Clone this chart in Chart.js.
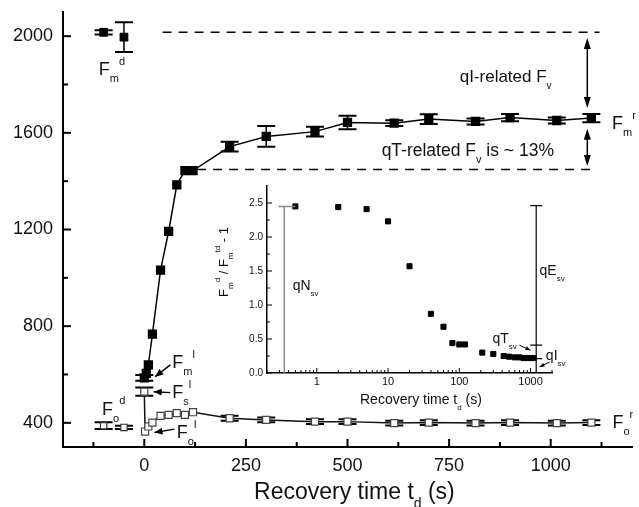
<!DOCTYPE html>
<html>
<head>
<meta charset="utf-8">
<script src="https://cdn.jsdelivr.net/npm/chart.js@4.4.1/dist/chart.umd.min.js"></script>
<style>
  html, body { margin: 0; padding: 0; background: #fff; }
  #wrap { position: relative; width: 639px; height: 507px; }
  #main { position: absolute; left: 0; top: 0; }
  #inset { position: absolute; left: 200px; top: 175px; }
</style>
</head>
<body>
<div id="wrap">
  <canvas id="main" width="639" height="507"></canvas>
  <canvas id="inset" width="380" height="240"></canvas>
</div>
<script>
(function () {
var FONT = '"Liberation Sans", Arial, Helvetica, sans-serif';

// dark-adapted values (before illumination)
var darkTime = [-100, -50];
var fmDark = [2016, 1996];
var fmDarkErr = [9, 62];
var foDark = [388, 381];
var foDarkErr = [14, 7];

// recovery, Fm (filled squares)
var fmTime = [0, 5, 10, 20, 40, 60, 80, 100, 120, 210, 300, 420, 500, 615, 700, 815, 900, 1015, 1100];
var fmRec = [586, 605, 640, 767, 1032, 1192, 1385, 1444, 1444, 1543, 1585, 1605, 1643, 1640, 1657, 1647, 1663, 1651, 1661];
var fmRecErr = [12, 0, 0, 0, 0, 0, 0, 0, 0, 20, 43, 20, 28, 12, 20, 12, 15, 12, 17];

// recovery, Fs / Fo (open squares)
var foTime = [0, 2, 10, 20, 40, 60, 80, 100, 120, 210, 300, 420, 500, 615, 700, 815, 900, 1015, 1100];
var foRec = [529, 364, 385, 401, 429, 433, 440, 433, 444, 419, 412, 405, 405, 399, 401, 399, 401, 399, 401];
var foRecErr = [17, 0, 0, 0, 0, 0, 0, 0, 0, 10, 10, 10, 10, 10, 10, 10, 10, 10, 10];

var xMajor = [0, 250, 500, 750, 1000];
var xMinor = [-125, 125, 375, 625, 875, 1125];
var yMajor = [400, 800, 1200, 1600, 2000];
var yMinor = [600, 1000, 1400, 1800];

// inset: Fm(d)/Fm(td) - 1 vs recovery time (log)
var insetTime = [0.5, 2, 5, 10, 20, 40, 60, 80, 100, 120, 210, 300, 420, 500, 600, 700, 800, 900, 1000, 1100];
var insetRatio = [2.45, 2.44, 2.41, 2.23, 1.57, 0.87, 0.68, 0.44, 0.42, 0.42, 0.30, 0.28, 0.25, 0.24, 0.23, 0.23, 0.22, 0.22, 0.22, 0.22];
var insetYMajor = [0, 0.5, 1, 1.5, 2, 2.5];
var insetYMinor = [0.25, 0.75, 1.25, 1.75, 2.25];
var insetXMajor = [1, 10, 100, 1000];
var insetXMinor = [0.2, 0.3, 0.4, 0.5, 0.6, 0.7, 0.8, 0.9, 2, 3, 4, 5, 6, 7, 8, 9,
  20, 30, 40, 50, 60, 70, 80, 90, 200, 300, 400, 500, 600, 700, 800, 900, 2000];

Chart.defaults.font.family = FONT;
Chart.defaults.color = '#111';

function pts(xs, ys) {
  return xs.map(function (x, i) { return {x: x, y: ys[i]}; });
}

function tickList(major, minor) {
  return major.concat(minor).sort(function (a, b) { return a - b; })
    .map(function (v) { return {value: v}; });
}

function noEdgePadding(s) {
  s.paddingTop = 0; s.paddingBottom = 0; s.paddingLeft = 0; s.paddingRight = 0;
}

// text with sub/superscripts; y is the middle of the capitals
function drawRich(ctx, x, y, parts, size, measureOnly) {
  var cx = x, base = y + size * 0.36;
  var subSize = Math.round(size * 0.6), supSize = Math.round(size * 0.62);
  parts.forEach(function (p) {
    var t = p[0], kind = p[1] || 'n', w;
    if (kind === 'sub') {
      ctx.font = subSize + 'px ' + FONT;
      w = ctx.measureText(t).width;
      if (!measureOnly) ctx.fillText(t, cx, base + size * 0.4);
    } else if (kind === 'sup') {
      ctx.font = supSize + 'px ' + FONT;
      w = ctx.measureText(t).width;
      if (!measureOnly) ctx.fillText(t, cx, base - size * 0.56);
    } else {
      ctx.font = size + 'px ' + FONT;
      w = ctx.measureText(t).width;
      if (!measureOnly) ctx.fillText(t, cx, base);
    }
    cx += w;
  });
  return cx - x;
}

function arrowHead(ctx, x1, y1, x2, y2, len, half) {
  var a = Math.atan2(y2 - y1, x2 - x1), c = Math.cos(a), s = Math.sin(a);
  ctx.beginPath();
  ctx.moveTo(x2, y2);
  ctx.lineTo(x2 - len * c + half * s, y2 - len * s - half * c);
  ctx.lineTo(x2 - len * c - half * s, y2 - len * s + half * c);
  ctx.closePath();
  ctx.fill();
}

var errorBars = {
  id: 'errorBars',
  beforeDatasetsDraw: function (chart) {
    var ctx = chart.ctx, ys = chart.scales.y;
    ctx.save();
    ctx.strokeStyle = '#000';
    chart.data.datasets.forEach(function (ds, i) {
      if (!ds.errors) return;
      chart.getDatasetMeta(i).data.forEach(function (pt, j) {
        var e = ds.errors[j];
        if (!e) return;
        var v = ds.data[j].y;
        var top = ys.getPixelForValue(v + e), bot = ys.getPixelForValue(v - e);
        ctx.lineWidth = 1.5;
        ctx.beginPath(); ctx.moveTo(pt.x, top); ctx.lineTo(pt.x, bot); ctx.stroke();
        ctx.lineWidth = 2;
        ctx.beginPath();
        ctx.moveTo(pt.x - 9, top); ctx.lineTo(pt.x + 9, top);
        ctx.moveTo(pt.x - 9, bot); ctx.lineTo(pt.x + 9, bot);
        ctx.stroke();
      });
    });
    ctx.restore();
  }
};

var inwardTicks = {
  id: 'inwardTicks',
  afterDatasetsDraw: function (chart, args, opts) {
    var ctx = chart.ctx;
    ctx.save();
    ctx.strokeStyle = '#000';
    opts.axes.forEach(function (a) {
      var s = chart.scales[a.id];
      ctx.lineWidth = a.width;
      [[a.major, a.len[0]], [a.minor, a.len[1]]].forEach(function (pair) {
        pair[0].forEach(function (v) {
          var p = s.getPixelForValue(v);
          ctx.beginPath();
          if (s.isHorizontal()) { ctx.moveTo(p, s.top); ctx.lineTo(p, s.top - pair[1]); }
          else { ctx.moveTo(s.right, p); ctx.lineTo(s.right + pair[1], p); }
          ctx.stroke();
        });
      });
    });
    ctx.restore();
  }
};

// ---------- main chart ----------
var mainNotes = [
  {x: 776, y: 1835, size: 17, parts: [['qI-related F'], ['v', 'sub']]},
  {x: 584, y: 1529, size: 17.5, parts: [['qT-related F'], ['v', 'sub'], [' is ~ 13%']]},
  {x: 1151, y: 1643, size: 18, parts: [['F'], ['m', 'sub'], ['r', 'sup']]},
  {x: 1152, y: 405, size: 18, parts: [['F'], ['o', 'sub'], ['r', 'sup']]},
  {x: -112, y: 1867, size: 18, parts: [['F'], ['m', 'sub'], ['d', 'sup']]},
  {x: -104, y: 461, size: 18, parts: [['F'], ['o', 'sub'], ['d', 'sup']]},
  {x: 69, y: 654, size: 18, parts: [['F'], ['m', 'sub'], ['l', 'sup']]},
  {x: 69, y: 529, size: 18, parts: [['F'], ['s', 'sub'], ['l', 'sup']]},
  {x: 80, y: 364, size: 18, parts: [['F'], ['o', 'sub'], ['l', 'sup']]}
];
var dashGuides = [[45, 2016, 1120, 2016], [130, 1448, 1110, 1448]];
var fvArrows = [[1090, 1992, 1090, 1703], [1090, 1617, 1090, 1463]];
var labelArrows = [[64, 640, 27, 591], [64, 525, 23, 529], [74, 374, 25, 360]];

var mainDecor = {
  id: 'mainDecor',
  afterDatasetsDraw: function (chart) {
    var ctx = chart.ctx, xs = chart.scales.x, ys = chart.scales.y;
    ctx.save();
    ctx.strokeStyle = '#000';
    ctx.fillStyle = '#000';
    ctx.lineWidth = 1.5;
    ctx.setLineDash([9, 7]);
    dashGuides.forEach(function (g) {
      ctx.beginPath();
      ctx.moveTo(xs.getPixelForValue(g[0]), ys.getPixelForValue(g[1]));
      ctx.lineTo(xs.getPixelForValue(g[2]), ys.getPixelForValue(g[3]));
      ctx.stroke();
    });
    ctx.setLineDash([]);
    fvArrows.forEach(function (g) {
      var x1 = xs.getPixelForValue(g[0]), y1 = ys.getPixelForValue(g[1]);
      var x2 = xs.getPixelForValue(g[2]), y2 = ys.getPixelForValue(g[3]);
      ctx.beginPath(); ctx.moveTo(x1, y1 + 6); ctx.lineTo(x2, y2 - 6); ctx.stroke();
      arrowHead(ctx, x2, y2 - 10, x1, y1, 11, 3.5);
      arrowHead(ctx, x1, y1 + 10, x2, y2, 11, 3.5);
    });
    labelArrows.forEach(function (g) {
      var x1 = xs.getPixelForValue(g[0]), y1 = ys.getPixelForValue(g[1]);
      var x2 = xs.getPixelForValue(g[2]), y2 = ys.getPixelForValue(g[3]);
      ctx.beginPath(); ctx.moveTo(x1, y1); ctx.lineTo(x2, y2); ctx.stroke();
      arrowHead(ctx, x1, y1, x2, y2, 8, 3.5);
    });
    ctx.fillStyle = '#111';
    mainNotes.forEach(function (n) {
      drawRich(ctx, xs.getPixelForValue(n.x), ys.getPixelForValue(n.y), n.parts, n.size);
    });
    drawRich(ctx, xs.getPixelForValue(270), chart.chartArea.bottom + 44,
      [['Recovery time t'], ['d', 'sub'], [' (s)']], 23);
    ctx.restore();
  }
};

new Chart(document.getElementById('main'), {
  type: 'scatter',
  data: {
    datasets: [
      {data: pts(darkTime, fmDark), errors: fmDarkErr, showLine: false, pointStyle: 'rect',
        pointRadius: 5.5, backgroundColor: '#000', borderColor: '#000'},
      {data: pts(darkTime, foDark), errors: foDarkErr, showLine: false, pointStyle: 'rect',
        pointRadius: 4.5, backgroundColor: '#fff', borderColor: '#333', borderWidth: 1.2},
      {data: pts(fmTime, fmRec), errors: fmRecErr, showLine: true, borderColor: '#000', borderWidth: 1.5,
        pointStyle: 'rect', pointRadius: 5.5, pointBackgroundColor: '#000', pointBorderColor: '#000'},
      {data: pts(foTime, foRec), errors: foRecErr, showLine: true, borderColor: '#111', borderWidth: 1.5,
        pointStyle: 'rect', pointRadius: 5, pointBackgroundColor: '#fff', pointBorderColor: '#444',
        pointBorderWidth: 1.2}
    ]
  },
  options: {
    responsive: false,
    animation: false,
    events: [],
    layout: {padding: {left: 0, top: 12, right: 6, bottom: 0}},
    plugins: {
      legend: {display: false},
      tooltip: {enabled: false},
      inwardTicks: {axes: [
        {id: 'x', major: xMajor, minor: xMinor, len: [8, 5], width: 2},
        {id: 'y', major: yMajor, minor: yMinor, len: [8, 5], width: 2}
      ]}
    },
    scales: {
      x: {
        type: 'linear', min: -200, max: 1200,
        afterBuildTicks: function (s) { s.ticks = tickList(xMajor, xMinor); },
        afterFit: function (s) { s.height = 60; noEdgePadding(s); },
        grid: {display: false, drawTicks: false},
        border: {display: true, color: '#000', width: 2},
        ticks: {autoSkip: false, maxRotation: 0, padding: 8, color: '#111', font: {size: 18},
          callback: function (v) { return xMajor.indexOf(v) >= 0 ? String(v) : ''; }}
      },
      y: {
        type: 'linear', min: 300, max: 2100,
        afterBuildTicks: function (s) { s.ticks = tickList(yMajor, yMinor); },
        afterFit: function (s) { s.width = 63; noEdgePadding(s); },
        grid: {display: false, drawTicks: false},
        border: {display: true, color: '#000', width: 2},
        ticks: {autoSkip: false, padding: 10, color: '#111', font: {size: 18},
          callback: function (v) { return yMajor.indexOf(v) >= 0 ? String(v) : ''; }}
      }
    }
  },
  plugins: [errorBars, inwardTicks, mainDecor]
});

// ---------- inset ----------
var insetNotes = [
  {x: 0.458, y: 1.29, parts: [['qN'], ['sv', 'sub']]},
  {x: 1337, y: 1.51, parts: [['qE'], ['sv', 'sub']]},
  {x: 292, y: 0.51, parts: [['qT'], ['sv', 'sub']]},
  {x: 1640, y: 0.26, parts: [['qI'], ['sv', 'sub']]}
];
var insetArrows = [[697, 0.41, 997, 0.335], [1850, 0.16, 1336, 0.09]];
var qnBar = {x: 0.35, top: 2.45, capFrom: 0.29, capTo: 0.5};
var qeBar = {x: 1200, caps: [2.46, 0.41, 0.21]};

var insetDecor = {
  id: 'insetDecor',
  afterDatasetsDraw: function (chart) {
    var ctx = chart.ctx, xs = chart.scales.x, ys = chart.scales.y;
    var y0 = ys.getPixelForValue(0);
    ctx.save();
    ctx.lineWidth = 1.5;
    ctx.strokeStyle = '#888';
    var qx = xs.getPixelForValue(qnBar.x), qt = ys.getPixelForValue(qnBar.top);
    ctx.beginPath();
    ctx.moveTo(qx, y0); ctx.lineTo(qx, qt);
    ctx.moveTo(xs.getPixelForValue(qnBar.capFrom), qt); ctx.lineTo(xs.getPixelForValue(qnBar.capTo), qt);
    ctx.stroke();
    ctx.strokeStyle = '#000';
    ctx.lineWidth = 1.2;
    var ex = xs.getPixelForValue(qeBar.x);
    ctx.beginPath();
    ctx.moveTo(ex, y0); ctx.lineTo(ex, ys.getPixelForValue(qeBar.caps[0]));
    qeBar.caps.forEach(function (c) {
      var p = ys.getPixelForValue(c);
      ctx.moveTo(ex - 6, p); ctx.lineTo(ex + 6, p);
    });
    ctx.stroke();
    ctx.fillStyle = '#000';
    ctx.lineWidth = 1;
    insetArrows.forEach(function (g) {
      var x1 = xs.getPixelForValue(g[0]), y1 = ys.getPixelForValue(g[1]);
      var x2 = xs.getPixelForValue(g[2]), y2 = ys.getPixelForValue(g[3]);
      ctx.beginPath(); ctx.moveTo(x1, y1); ctx.lineTo(x2, y2); ctx.stroke();
      arrowHead(ctx, x1, y1, x2, y2, 5, 2);
    });
    ctx.fillStyle = '#111';
    insetNotes.forEach(function (n) {
      drawRich(ctx, xs.getPixelForValue(n.x), ys.getPixelForValue(n.y), n.parts, 14);
    });
    drawRich(ctx, 160, 224, [['Recovery time t'], ['d', 'sub'], [' (s)']], 14);
    var yt = [['F'], ['m', 'sub'], ['d', 'sup'], [' / F'], ['m', 'sub'], ['td', 'sup'], [' - 1']];
    ctx.translate(23, 87);
    ctx.rotate(-Math.PI / 2);
    var w = drawRich(ctx, 0, 0, yt, 13, true);
    drawRich(ctx, -w / 2, 0, yt, 13);
    ctx.restore();
  }
};

new Chart(document.getElementById('inset'), {
  type: 'scatter',
  data: {
    datasets: [
      {data: pts(insetTime, insetRatio), showLine: false, pointStyle: 'rect', pointRadius: 3.6,
        backgroundColor: '#000', borderColor: '#000'}
    ]
  },
  options: {
    responsive: false,
    animation: false,
    events: [],
    layout: {padding: {left: 0, top: 11, right: 28, bottom: 0}},
    plugins: {
      legend: {display: false},
      tooltip: {enabled: false},
      inwardTicks: {axes: [
        {id: 'x', major: insetXMajor, minor: insetXMinor, len: [5, 3], width: 1},
        {id: 'y', major: insetYMajor, minor: insetYMinor, len: [5, 3], width: 1}
      ]}
    },
    scales: {
      x: {
        type: 'logarithmic', min: 0.2, max: 2000,
        afterBuildTicks: function (s) { s.ticks = tickList(insetXMajor, insetXMinor); },
        afterFit: function (s) { s.height = 42; noEdgePadding(s); },
        grid: {display: false, drawTicks: false},
        border: {display: true, color: '#000', width: 1.5},
        ticks: {autoSkip: false, maxRotation: 0, padding: 2, color: '#111', font: {size: 11},
          callback: function (v) { return insetXMajor.indexOf(v) >= 0 ? String(v) : ''; }}
      },
      y: {
        type: 'linear', min: 0, max: 2.75,
        afterBuildTicks: function (s) { s.ticks = tickList(insetYMajor, insetYMinor); },
        afterFit: function (s) { s.width = 67; noEdgePadding(s); },
        grid: {display: false, drawTicks: false},
        border: {display: true, color: '#000', width: 1.5},
        ticks: {autoSkip: false, padding: 4, color: '#111', font: {size: 10},
          callback: function (v) { return insetYMajor.indexOf(v) >= 0 ? v.toFixed(1) : ''; }}
      }
    }
  },
  plugins: [inwardTicks, insetDecor]
});
})();
</script>
</body>
</html>
